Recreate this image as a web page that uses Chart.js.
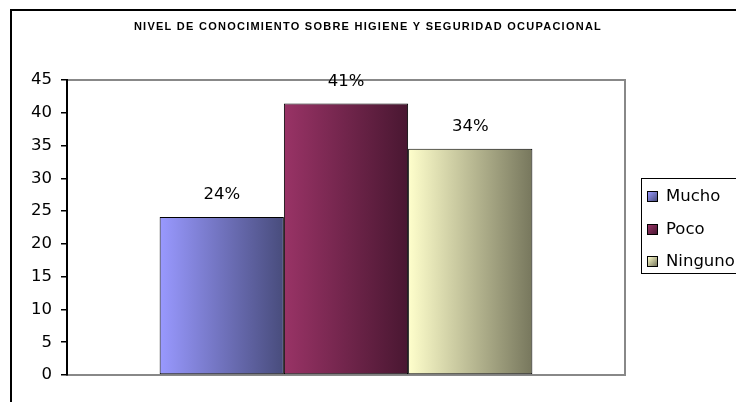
<!DOCTYPE html>
<html>
<head>
<meta charset="utf-8">
<script src="https://cdn.jsdelivr.net/npm/chart.js@4/dist/chart.umd.min.js"></script>
<style>
  html, body { margin: 0; padding: 0; background: #fff; overflow: hidden; }
  #wrap { position: relative; width: 736px; height: 402px; overflow: hidden; }
  #frame { position: absolute; left: 10px; top: 9px; width: 800px; height: 500px; border: 2px solid #000; box-sizing: border-box; }
  #chart { position: absolute; left: 0; top: 0; }
  #legend { position: absolute; left: 641px; top: 178px; width: 120px; height: 96px; border: 1.5px solid #000; box-sizing: border-box;
            font: 16.5px "DejaVu Sans", sans-serif; color: #000; }
  #legend .item { position: absolute; left: 5px; height: 20px; line-height: 20px; white-space: nowrap; }
  #legend .sw { display: inline-block; width: 9px; height: 9px; border: 1px solid #000; margin-right: 8px; vertical-align: -1px; }
</style>
</head>
<body>
<div id="wrap">
  <div id="frame"></div>
  <canvas id="chart" width="736" height="402"></canvas>
  <div id="legend"></div>
</div>
<script>
// chart data
const title = 'NIVEL DE CONOCIMIENTO SOBRE HIGIENE Y SEGURIDAD OCUPACIONAL';
const categories = [''];
const seriesNames = ['Mucho', 'Poco', 'Ninguno'];
const seriesValues = [24.1, 41.4, 34.5];
const pctLabels = ['24%', '41%', '34%'];
const lightColors = ['#9999FF', '#993366', '#FFFFCC'];
const darkColors = ['#484C7C', '#491731', '#77775D'];
const yTicks = [0, 5, 10, 15, 20, 25, 30, 35, 40, 45];

const FONT = '"DejaVu Sans", sans-serif';

// gray box round the plot area, drawn under the axis
const plotBox = {
  id: 'plotBox',
  beforeDraw(chart) {
    const { ctx, chartArea: a } = chart;
    ctx.save();
    ctx.strokeStyle = '#888';
    ctx.lineWidth = 2;
    ctx.strokeRect(a.left, a.top, a.right - a.left, a.bottom - a.top);
    ctx.restore();
  },
};

// horizontal light-to-dark gradient on each bar
const barShade = {
  id: 'barShade',
  beforeDatasetsDraw(chart) {
    const ctx = chart.ctx;
    chart.data.datasets.forEach((ds, i) => {
      chart.getDatasetMeta(i).data.forEach(bar => {
        const g = ctx.createLinearGradient(bar.x - bar.width / 2, 0, bar.x + bar.width / 2, 0);
        g.addColorStop(0, lightColors[i]);
        g.addColorStop(1, darkColors[i]);
        bar.options.backgroundColor = g;
      });
    });
  },
};

// percent labels above the bars + title
const labelsAndTitle = {
  id: 'labelsAndTitle',
  afterDatasetsDraw(chart) {
    const ctx = chart.ctx;
    ctx.save();
    ctx.fillStyle = '#000';
    ctx.font = '16.5px ' + FONT;
    ctx.textAlign = 'center';
    ctx.textBaseline = 'middle';
    chart.data.datasets.forEach((ds, i) => {
      chart.getDatasetMeta(i).data.forEach(bar => {
        ctx.fillText(pctLabels[i], bar.x, bar.y - 22);
      });
    });
    ctx.restore();
  },
  afterDraw(chart) {
    const ctx = chart.ctx;
    ctx.save();
    ctx.fillStyle = '#000';
    ctx.font = 'bold 11px "Liberation Sans", Arial, sans-serif';
    ctx.letterSpacing = '1.25px';
    ctx.textAlign = 'center';
    ctx.textBaseline = 'middle';
    ctx.fillText(title, 368, 27);
    ctx.restore();
  },
};

const chart = new Chart(document.getElementById('chart'), {
  type: 'bar',
  data: {
    labels: categories,
    datasets: seriesNames.map((name, i) => ({
      label: name,
      data: [seriesValues[i]],
      backgroundColor: lightColors[i],
      borderColor: '#000',
      borderWidth: 1,
      borderSkipped: false,
      categoryPercentage: 0.668,
      barPercentage: 1,
    })),
  },
  options: {
    responsive: false,
    animation: false,
    layout: { padding: { top: 80, right: 111, bottom: 27, left: 0 } },
    plugins: { legend: { display: false }, tooltip: { enabled: false } },
    scales: {
      x: { display: false },
      y: {
        min: 0,
        max: 45,
        afterBuildTicks: s => { s.ticks = yTicks.map(v => ({ value: v })); },
        afterFit: s => { s.width = 67; },
        grid: { drawOnChartArea: false, drawTicks: true, tickLength: 6, color: '#000', lineWidth: 1.5 },
        border: { color: '#000', width: 2 },
        ticks: { color: '#000', padding: 9, font: { family: FONT, size: 16.5 } },
      },
    },
  },
  plugins: [plotBox, barShade, labelsAndTitle],
});

// legend built from the datasets
const legend = document.getElementById('legend');
chart.data.datasets.forEach((ds, i) => {
  const item = document.createElement('div');
  item.className = 'item';
  item.style.top = (7 + i * 32.5) + 'px';
  item.innerHTML = '<span class="sw" style="background:linear-gradient(135deg,' + lightColors[i] + ',' + darkColors[i] + ')"></span>' + ds.label;
  legend.appendChild(item);
});
</script>
</body>
</html>
